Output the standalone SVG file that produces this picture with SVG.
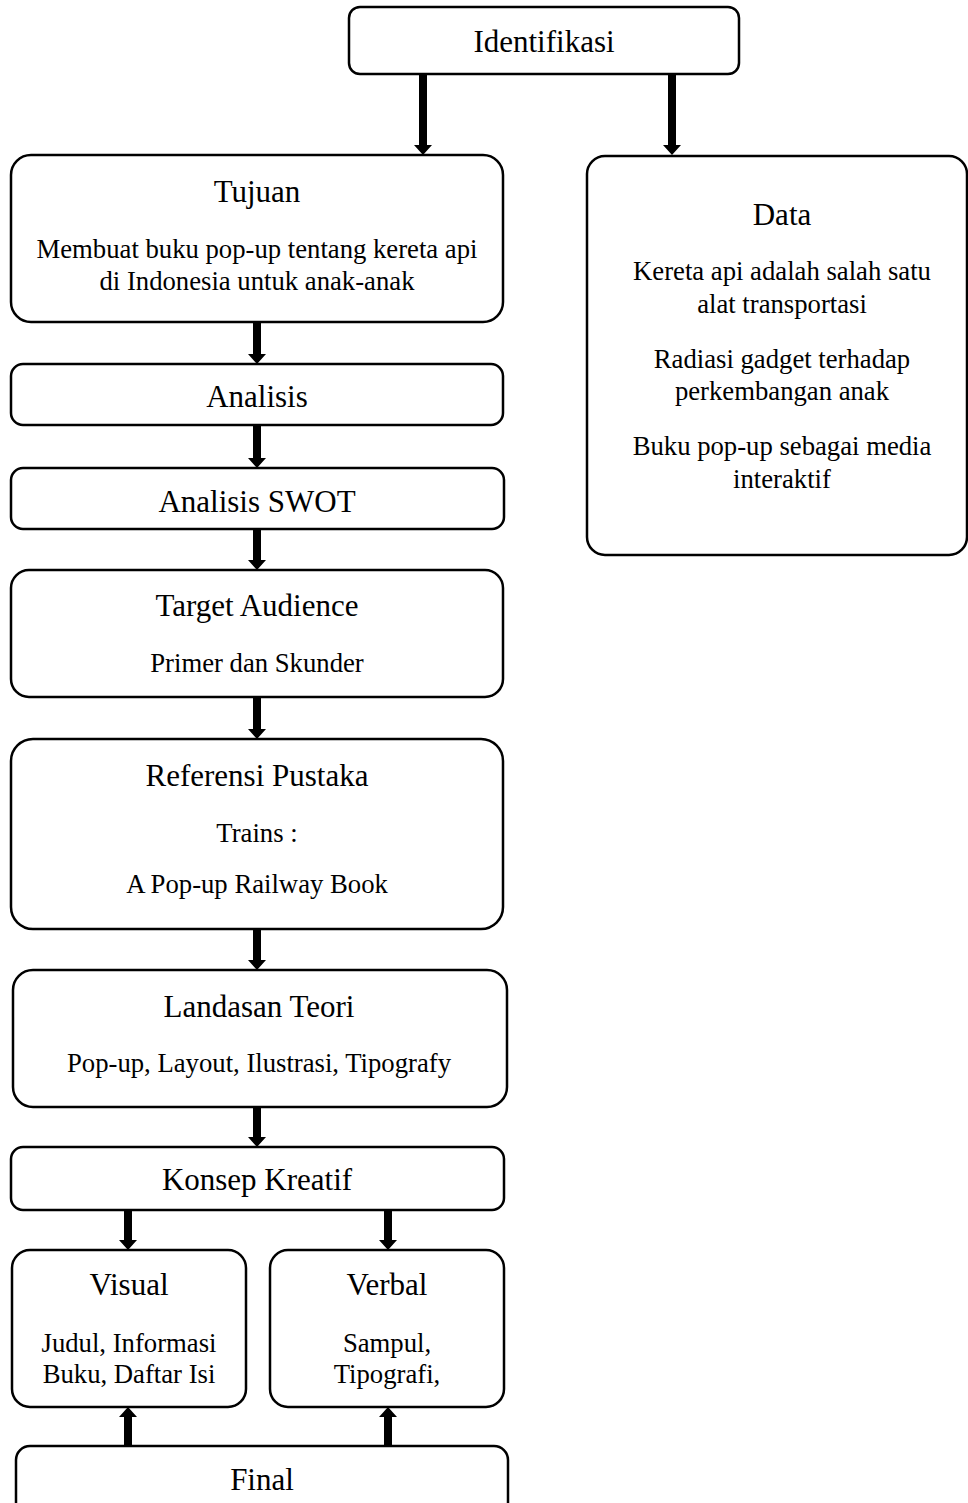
<svg xmlns="http://www.w3.org/2000/svg" width="968" height="1503" viewBox="0 0 968 1503">
<style>
.box{fill:#fff;stroke:#000;stroke-width:2.5}
.t{font-family:"Liberation Serif","Times New Roman",serif;font-size:31px;text-anchor:middle;fill:#000}
.b{font-family:"Liberation Serif","Times New Roman",serif;font-size:26.7px;text-anchor:middle;fill:#000}
.ar{fill:#000}
</style>
<rect x="0" y="0" width="968" height="1503" fill="#fff"/>
<g id="connectors">
<polygon class="ar" points="419,74 427,74 427,145 432,145 423,155 414,145 419,145"/>
<polygon class="ar" points="668,74 676,74 676,145 681,145 672,155 663,145 668,145"/>
<polygon class="ar" points="253,322 261,322 261,354 266,354 257,364 248,354 253,354"/>
<polygon class="ar" points="253,425 261,425 261,458 266,458 257,468 248,458 253,458"/>
<polygon class="ar" points="253,529 261,529 261,560 266,560 257,570 248,560 253,560"/>
<polygon class="ar" points="253,697 261,697 261,729 266,729 257,739 248,729 253,729"/>
<polygon class="ar" points="253,929 261,929 261,960 266,960 257,970 248,960 253,960"/>
<polygon class="ar" points="253,1107 261,1107 261,1137 266,1137 257,1147 248,1137 253,1137"/>
<polygon class="ar" points="124,1210 132,1210 132,1240 137,1240 128,1250 119,1240 124,1240"/>
<polygon class="ar" points="384,1210 392,1210 392,1240 397,1240 388,1250 379,1240 384,1240"/>
<polygon class="ar" points="124,1446 132,1446 132,1417 137,1417 128,1407 119,1417 124,1417"/>
<polygon class="ar" points="384,1446 392,1446 392,1417 397,1417 388,1407 379,1417 384,1417"/>
</g>
<g id="identifikasi">
<rect class="box" x="349" y="7" width="390" height="67" rx="11"/>
<text class="t" x="544" y="52">Identifikasi</text>
</g>
<g id="tujuan">
<rect class="box" x="11" y="155" width="492" height="167" rx="20"/>
<text class="t" x="257" y="202">Tujuan</text>
<text class="b" x="257" y="258">Membuat buku pop-up tentang kereta api</text>
<text class="b" x="257" y="290">di Indonesia untuk anak-anak</text>
</g>
<g id="data">
<rect class="box" x="587" y="156" width="380" height="399" rx="18"/>
<text class="t" x="782" y="225">Data</text>
<text class="b" x="782" y="280">Kereta api adalah salah satu</text>
<text class="b" x="782" y="313">alat transportasi</text>
<text class="b" x="782" y="368">Radiasi gadget terhadap</text>
<text class="b" x="782" y="400">perkembangan anak</text>
<text class="b" x="782" y="455">Buku pop-up sebagai media</text>
<text class="b" x="782" y="488">interaktif</text>
</g>
<g id="analisis">
<rect class="box" x="11" y="364" width="492" height="61" rx="12"/>
<text class="t" x="257" y="407">Analisis</text>
</g>
<g id="swot">
<rect class="box" x="11" y="468" width="493" height="61" rx="12"/>
<text class="t" x="257" y="512">Analisis SWOT</text>
</g>
<g id="target">
<rect class="box" x="11" y="570" width="492" height="127" rx="18"/>
<text class="t" x="257" y="616">Target Audience</text>
<text class="b" x="257" y="672">Primer dan Skunder</text>
</g>
<g id="referensi">
<rect class="box" x="11" y="739" width="492" height="190" rx="22"/>
<text class="t" x="257" y="786">Referensi Pustaka</text>
<text class="b" x="257" y="842">Trains :</text>
<text class="b" x="257" y="893">A Pop-up Railway Book</text>
</g>
<g id="landasan">
<rect class="box" x="13" y="970" width="494" height="137" rx="20"/>
<text class="t" x="259" y="1017">Landasan Teori</text>
<text class="b" x="259" y="1072">Pop-up, Layout, Ilustrasi, Tipografy</text>
</g>
<g id="konsep">
<rect class="box" x="11" y="1147" width="493" height="63" rx="12"/>
<text class="t" x="257" y="1190">Konsep Kreatif</text>
</g>
<g id="visual">
<rect class="box" x="12" y="1250" width="234" height="157" rx="18"/>
<text class="t" x="129" y="1295">Visual</text>
<text class="b" x="129" y="1352">Judul, Informasi</text>
<text class="b" x="129" y="1383">Buku, Daftar Isi</text>
</g>
<g id="verbal">
<rect class="box" x="270" y="1250" width="234" height="157" rx="18"/>
<text class="t" x="387" y="1295">Verbal</text>
<text class="b" x="387" y="1352">Sampul,</text>
<text class="b" x="387" y="1383">Tipografi,</text>
</g>
<g id="final">
<rect class="box" x="16" y="1446" width="492" height="75" rx="14"/>
<text class="t" x="262" y="1490">Final</text>
</g>
</svg>
